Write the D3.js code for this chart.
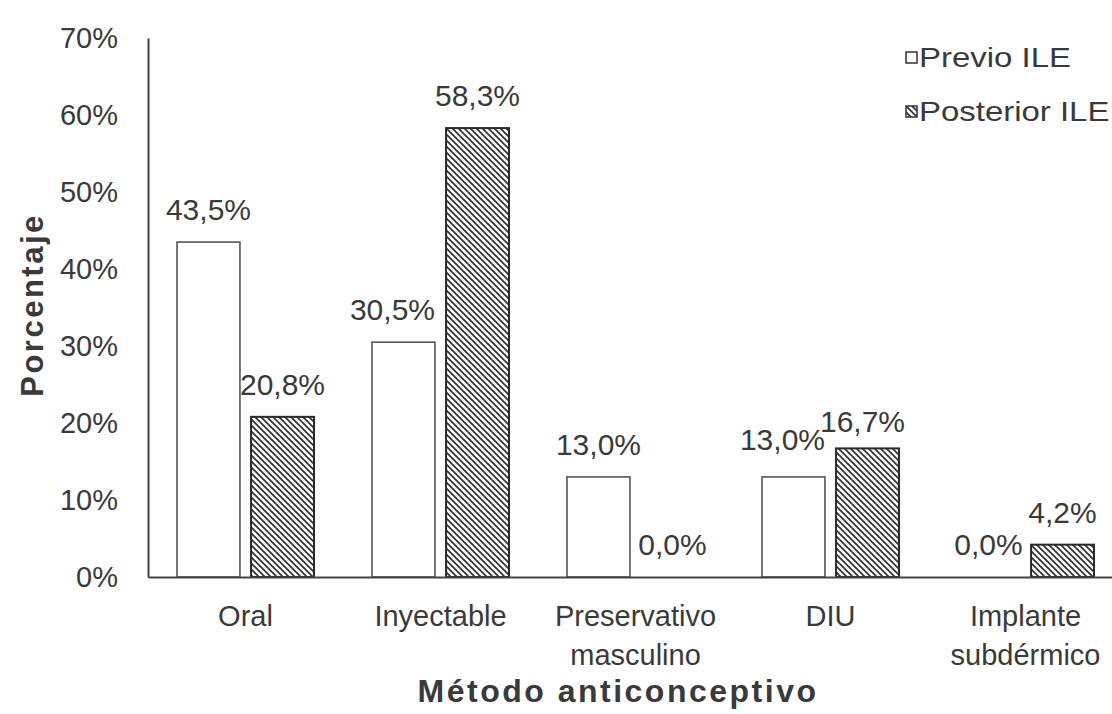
<!DOCTYPE html>
<html>
<head>
<meta charset="utf-8">
<script src="https://cdnjs.cloudflare.com/ajax/libs/d3/7.8.5/d3.min.js"></script>
<style>
  body { margin: 0; background: #fff; }
  text { font-family: "Liberation Sans", Arial, sans-serif; fill: #3a3a3a; }
</style>
</head>
<body>
<div id="chart"></div>
<script>
// datos
var categorias = ["Oral", "Inyectable", "Preservativo\nmasculino", "DIU", "Implante\nsubdérmico"];
var series = ["Previo ILE", "Posterior ILE"];
var previo = [0.435, 0.305, 0.130, 0.130, 0.000];
var posterior = [0.208, 0.583, 0.000, 0.167, 0.042];
var yTicks = [0, 0.1, 0.2, 0.3, 0.4, 0.5, 0.6, 0.7];

var width = 1112, height = 714;
var margen = { izq: 148, der: 1123, sup: 38, inf: 577 };

var svg = d3.select("#chart").append("svg")
    .attr("width", width)
    .attr("height", height);

// patron rayado para "Posterior"
var defs = svg.append("defs");
defs.append("pattern")
    .attr("id", "rayas")
    .attr("patternUnits", "userSpaceOnUse")
    .attr("width", 6)
    .attr("height", 6)
    .append("path")
    .attr("d", "M-1,5 L1,7 M0,0 L6,6 M5,-1 L7,1")
    .attr("stroke", "#333")
    .attr("stroke-width", 1.7);

var x = d3.scaleBand()
    .domain(categorias)
    .range([margen.izq, margen.der]);

var xSerie = d3.scaleBand()
    .domain([0, 1])
    .range([29, x.bandwidth() - 29])
    .paddingInner(0.15);

var y = d3.scaleLinear()
    .domain([0, 0.7])
    .range([margen.inf, margen.sup]);

var fmtPct = function (v) { return (v * 100).toFixed(1).replace(".", ",") + "%"; };

// datos planos para las barras
var barras = [];
categorias.forEach(function (c, i) {
    barras.push({ cat: c, s: 0, v: previo[i], i: i });
    barras.push({ cat: c, s: 1, v: posterior[i], i: i });
});

// ajustes manuales de etiquetas (como en el original)
function ajuste(d) {
    if (d.i === 1 && d.s === 0) return [-11, 0];
    if (d.i === 3 && d.s === 0) return [-11, -5];
    if (d.i === 3 && d.s === 1) return [-5, 6];
    return [0, 0];
}

svg.selectAll(".bar")
    .data(barras.filter(function (d) { return d.v > 0; }))
    .enter().append("rect")
    .attr("class", "bar")
    .attr("x", function (d) { return x(d.cat) + xSerie(d.s); })
    .attr("y", function (d) { return y(d.v); })
    .attr("width", xSerie.bandwidth())
    .attr("height", function (d) { return y(0) - y(d.v); })
    .attr("fill", function (d) { return d.s === 0 ? "#fff" : "url(#rayas)"; })
    .attr("stroke", function (d) { return d.s === 0 ? "#555" : "#2a2a2a"; })
    .attr("stroke-width", function (d) { return d.s === 0 ? 1.6 : 2; });

svg.selectAll(".etiqueta")
    .data(barras)
    .enter().append("text")
    .attr("class", "etiqueta")
    .attr("x", function (d) { return x(d.cat) + xSerie(d.s) + xSerie.bandwidth() / 2 + ajuste(d)[0]; })
    .attr("y", function (d) { return y(d.v) - 22 + ajuste(d)[1]; })
    .attr("text-anchor", "middle")
    .style("font-size", "30px")
    .text(function (d) { return fmtPct(d.v); });

// eje Y
var ejeY = svg.append("g")
    .attr("transform", "translate(" + margen.izq + ",0)")
    .call(d3.axisLeft(y).tickValues(yTicks).tickSize(0).tickPadding(30)
        .tickFormat(d3.format(".0%")));
ejeY.select(".domain").attr("stroke", "#444").attr("stroke-width", 2);
ejeY.selectAll("text").style("font-size", "29px").attr("fill", "#3a3a3a")
    .style("font-family", "'Liberation Sans', Arial, sans-serif");

// eje X
var ejeX = svg.append("g")
    .attr("transform", "translate(0," + margen.inf + ")")
    .call(d3.axisBottom(x).tickSize(0).tickPadding(49).tickFormat(""));
ejeX.select(".domain").attr("stroke", "#444").attr("stroke-width", 2);
ejeX.selectAll(".tick text").each(function (d) {
    var t = d3.select(this);
    t.style("font-size", "29px").attr("fill", "#3a3a3a")
        .style("font-family", "'Liberation Sans', Arial, sans-serif");
    d.split("\n").forEach(function (linea, k) {
        t.append("tspan").attr("x", 0).attr("dy", k === 0 ? 0 : "1.33em").text(linea);
    });
});

// titulos
svg.append("text")
    .attr("x", 618)
    .attr("y", 702)
    .attr("text-anchor", "middle")
    .style("font-size", "32px")
    .style("font-weight", "bold")
    .style("letter-spacing", "2.5px")
    .text("Método anticonceptivo");

svg.append("text")
    .attr("transform", "translate(43,305) rotate(-90)")
    .attr("text-anchor", "middle")
    .style("font-size", "31px")
    .style("font-weight", "bold")
    .style("letter-spacing", "2.5px")
    .text("Porcentaje");

// leyenda
var leyenda = svg.append("g").attr("transform", "translate(906,52)");
series.forEach(function (s, i) {
    var g = leyenda.append("g").attr("transform", "translate(0," + (i * 54) + ")");
    g.append("rect")
        .attr("width", 11).attr("height", 11)
        .attr("fill", i === 0 ? "#fff" : "url(#rayas)")
        .attr("stroke", "#333").attr("stroke-width", 1.5);
    g.append("text")
        .attr("transform", "translate(13,15) scale(1.22,1)")
        .style("font-size", "27px")
        .text(s);
});
</script>
</body>
</html>
